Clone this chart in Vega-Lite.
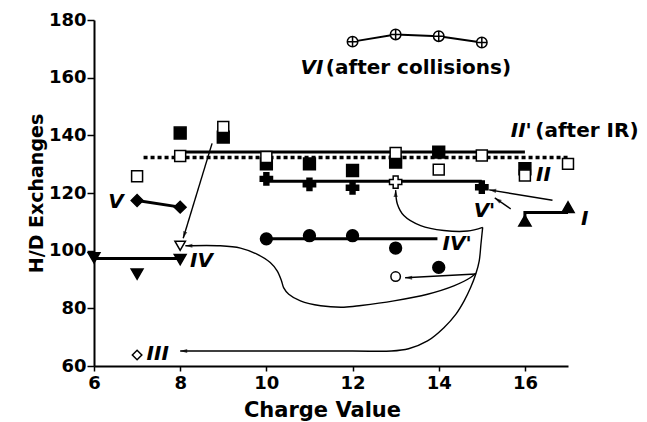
{
  "$schema": "https://vega.github.io/schema/vega-lite/v6.json",
  "width": 474,
  "height": 346,
  "autosize": {"type": "none"},
  "padding": {"left": 94, "top": 20, "right": 79, "bottom": 56},
  "background": "white",
  "config": {
    "view": {"stroke": null},
    "axis": {
      "grid": false,
      "domainColor": "black",
      "domainWidth": 2,
      "tickColor": "black",
      "tickWidth": 1.5,
      "labelFont": "DejaVu Sans",
      "labelFontWeight": "bold",
      "labelFontSize": 18,
      "labelColor": "black",
      "titleFont": "DejaVu Sans",
      "titleFontWeight": "bold",
      "titleFontSize": 19,
      "titleColor": "black"
    }
  },
  "datasets": {
    "points": [
      {"series": "II", "x": 8, "y": 140.8},
      {"series": "II", "x": 9, "y": 139.4},
      {"series": "II", "x": 10, "y": 130.1},
      {"series": "II", "x": 11, "y": 130.1},
      {"series": "II", "x": 12, "y": 127.8},
      {"series": "II", "x": 13, "y": 130.7},
      {"series": "II", "x": 14, "y": 134.2},
      {"series": "II", "x": 16, "y": 128.4},
      {"series": "II'", "x": 7, "y": 125.8},
      {"series": "II'", "x": 8, "y": 132.8},
      {"series": "II'", "x": 9, "y": 142.9},
      {"series": "II'", "x": 10, "y": 132.5},
      {"series": "II'", "x": 13, "y": 133.9},
      {"series": "II'", "x": 14, "y": 128.1},
      {"series": "II'", "x": 15, "y": 133.0},
      {"series": "II'", "x": 16, "y": 126.1},
      {"series": "II'", "x": 17, "y": 130.1},
      {"series": "I", "x": 16, "y": 110.4},
      {"series": "I", "x": 17, "y": 115.1},
      {"series": "III", "x": 7, "y": 63.8},
      {"series": "IV", "x": 6, "y": 97.5},
      {"series": "IV", "x": 7, "y": 91.9},
      {"series": "IV", "x": 8, "y": 96.9},
      {"series": "IV (open)", "x": 8, "y": 101.7},
      {"series": "IV'", "x": 10, "y": 104.1},
      {"series": "IV'", "x": 11, "y": 105.2},
      {"series": "IV'", "x": 12, "y": 105.2},
      {"series": "IV'", "x": 13, "y": 100.9},
      {"series": "IV'", "x": 14, "y": 94.2},
      {"series": "IV' (open)", "x": 13, "y": 91.0},
      {"series": "V", "x": 7, "y": 117.4},
      {"series": "V", "x": 8, "y": 115.1},
      {"series": "V'", "x": 10, "y": 124.9},
      {"series": "V'", "x": 11, "y": 123.0},
      {"series": "V'", "x": 12, "y": 121.8},
      {"series": "V'", "x": 15, "y": 122.0},
      {"series": "V' (open)", "x": 13, "y": 123.8},
      {"series": "VI", "x": 12, "y": 172.5},
      {"series": "VI", "x": 13, "y": 175.0},
      {"series": "VI", "x": 14, "y": 174.4},
      {"series": "VI", "x": 15, "y": 172.2}
    ],
    "seriesLines": [
      {"line": "VI", "i": 0, "x": 12, "y": 172.5},
      {"line": "VI", "i": 1, "x": 13, "y": 175.0},
      {"line": "VI", "i": 2, "x": 14, "y": 174.4},
      {"line": "VI", "i": 3, "x": 15, "y": 172.2},
      {"line": "II", "i": 0, "x": 8, "y": 134.2},
      {"line": "II", "i": 1, "x": 16, "y": 134.2},
      {"line": "II'", "i": 0, "x": 7.15, "y": 132.3},
      {"line": "II'", "i": 1, "x": 17, "y": 132.3},
      {"line": "V'", "i": 0, "x": 10, "y": 124.1},
      {"line": "V'", "i": 1, "x": 15, "y": 124.1},
      {"line": "IV'", "i": 0, "x": 10, "y": 104.1},
      {"line": "IV'", "i": 1, "x": 13.97, "y": 104.1},
      {"line": "IV", "i": 0, "x": 6, "y": 97.3},
      {"line": "IV", "i": 1, "x": 8, "y": 97.3},
      {"line": "V", "i": 0, "x": 7, "y": 117.4},
      {"line": "V", "i": 1, "x": 8, "y": 115.1},
      {"line": "I", "i": 0, "x": 16, "y": 110.5},
      {"line": "I", "i": 1, "x": 16, "y": 113.2},
      {"line": "I", "i": 2, "x": 17, "y": 113.2}
    ],
    "arrows": [
      {"arrow": "a1", "i": 0, "x": 8.74, "y": 137.2},
      {"arrow": "a1", "i": 1, "x": 8.07, "y": 104.3},
      {"arrow": "a2", "i": 0, "x": 14.86, "y": 92.2},
      {"arrow": "a2", "i": 1, "x": 14.74, "y": 90.7},
      {"arrow": "a2", "i": 2, "x": 14.35, "y": 87.8},
      {"arrow": "a2", "i": 3, "x": 13.74, "y": 84.9},
      {"arrow": "a2", "i": 4, "x": 12.96, "y": 82.6},
      {"arrow": "a2", "i": 5, "x": 12.2, "y": 81.0},
      {"arrow": "a2", "i": 6, "x": 11.8, "y": 80.4},
      {"arrow": "a2", "i": 7, "x": 11.26, "y": 80.9},
      {"arrow": "a2", "i": 8, "x": 10.79, "y": 82.6},
      {"arrow": "a2", "i": 9, "x": 10.52, "y": 84.9},
      {"arrow": "a2", "i": 10, "x": 10.4, "y": 87.2},
      {"arrow": "a2", "i": 11, "x": 10.35, "y": 89.6},
      {"arrow": "a2", "i": 12, "x": 10.25, "y": 93.0},
      {"arrow": "a2", "i": 13, "x": 10.09, "y": 95.9},
      {"arrow": "a2", "i": 14, "x": 9.78, "y": 98.8},
      {"arrow": "a2", "i": 15, "x": 9.4, "y": 100.9},
      {"arrow": "a2", "i": 16, "x": 8.93, "y": 101.7},
      {"arrow": "a2", "i": 17, "x": 8.12, "y": 101.7},
      {"arrow": "a3", "i": 0, "x": 15.02, "y": 108.1},
      {"arrow": "a3", "i": 1, "x": 14.98, "y": 102.3},
      {"arrow": "a3", "i": 2, "x": 14.94, "y": 96.5},
      {"arrow": "a3", "i": 3, "x": 14.86, "y": 91.9},
      {"arrow": "a3", "i": 4, "x": 14.74, "y": 87.2},
      {"arrow": "a3", "i": 5, "x": 14.59, "y": 82.6},
      {"arrow": "a3", "i": 6, "x": 14.4, "y": 78.0},
      {"arrow": "a3", "i": 7, "x": 14.12, "y": 73.3},
      {"arrow": "a3", "i": 8, "x": 13.74, "y": 68.7},
      {"arrow": "a3", "i": 9, "x": 13.3, "y": 66.0},
      {"arrow": "a3", "i": 10, "x": 12.9, "y": 65.2},
      {"arrow": "a3", "i": 11, "x": 12.0, "y": 65.2},
      {"arrow": "a3", "i": 12, "x": 8.0, "y": 65.2},
      {"arrow": "a4", "i": 0, "x": 15.02, "y": 108.1},
      {"arrow": "a4", "i": 1, "x": 14.67, "y": 106.8},
      {"arrow": "a4", "i": 2, "x": 14.12, "y": 107.0},
      {"arrow": "a4", "i": 3, "x": 13.58, "y": 108.7},
      {"arrow": "a4", "i": 4, "x": 13.19, "y": 112.2},
      {"arrow": "a4", "i": 5, "x": 13.04, "y": 116.2},
      {"arrow": "a4", "i": 6, "x": 13.0, "y": 121.0},
      {"arrow": "a5", "i": 0, "x": 14.86, "y": 91.9},
      {"arrow": "a5", "i": 1, "x": 13.22, "y": 90.6},
      {"arrow": "a6", "i": 0, "x": 16.64, "y": 117.5},
      {"arrow": "a6", "i": 1, "x": 15.17, "y": 121.1},
      {"arrow": "a7", "i": 0, "x": 15.67, "y": 114.5},
      {"arrow": "a7", "i": 1, "x": 15.3, "y": 118.3}
    ],
    "tips": [
      {"arrow": "a1", "x": 8.07, "y": 104.3},
      {"arrow": "a2", "x": 8.12, "y": 101.7},
      {"arrow": "a3", "x": 8.0, "y": 65.2},
      {"arrow": "a4", "x": 13.0, "y": 121.0},
      {"arrow": "a5", "x": 13.22, "y": 90.6},
      {"arrow": "a6", "x": 15.17, "y": 121.1},
      {"arrow": "a7", "x": 15.3, "y": 118.3}
    ],
    "labels": [
      {"text": "VI", "x": 10.79, "y": 163.5},
      {"text": "II'", "x": 15.67, "y": 141.4},
      {"text": "II", "x": 16.26, "y": 126.1},
      {"text": "V", "x": 6.33, "y": 116.8},
      {"text": "IV", "x": 8.23, "y": 96.5},
      {"text": "IV'", "x": 14.09, "y": 102.4},
      {"text": "V'", "x": 14.81, "y": 113.9},
      {"text": "I", "x": 17.3, "y": 111.1},
      {"text": "III", "x": 7.22, "y": 64.2}
    ],
    "notes": [
      {"text": "(after  collisions)", "x": 11.38, "y": 163.5},
      {"text": "(after  IR)", "x": 16.24, "y": 141.4}
    ]
  },
  "encoding": {
    "x": {
      "field": "x",
      "type": "quantitative",
      "scale": {"domain": [6, 17], "nice": false, "zero": false},
      "axis": {"values": [6, 8, 10, 12, 14, 16], "tickSize": 5, "labelPadding": 3, "title": "Charge  Value", "titleFontSize": 21, "titleX": 228, "titlePadding": 7, "labelFlush": false}
    },
    "y": {
      "field": "y",
      "type": "quantitative",
      "scale": {"domain": [60, 180], "nice": false, "zero": false},
      "axis": {"values": [60, 80, 100, 120, 140, 160, 180], "tickSize": 7, "labelPadding": 1, "title": "H/D Exchanges", "titlePadding": 2, "labelFlush": false}
    }
  },
  "layer": [
    {
      "data": {"name": "seriesLines"},
      "transform": [{"filter": "datum.line != 'VI' && datum.line != \"II'\""}],
      "mark": {"type": "line", "color": "black", "strokeWidth": 3, "interpolate": "linear"},
      "encoding": {"detail": {"field": "line"}, "order": {"field": "i"}}
    },
    {
      "data": {"name": "seriesLines"},
      "transform": [{"filter": "datum.line == \"II'\""}],
      "mark": {"type": "line", "color": "black", "strokeWidth": 3.5, "strokeDash": [4, 3], "strokeCap": "butt"},
      "encoding": {"detail": {"field": "line"}, "order": {"field": "i"}}
    },
    {
      "data": {"name": "seriesLines"},
      "transform": [{"filter": "datum.line == 'VI'"}],
      "mark": {"type": "line", "color": "black", "strokeWidth": 2},
      "encoding": {"detail": {"field": "line"}, "order": {"field": "i"}}
    },
    {
      "data": {"name": "arrows"},
      "transform": [{"filter": "datum.arrow != 'a1' && datum.arrow != 'a5' && datum.arrow != 'a6' && datum.arrow != 'a7'"}],
      "mark": {"type": "line", "color": "black", "strokeWidth": 1.4, "interpolate": "catmull-rom"},
      "encoding": {"detail": {"field": "arrow"}, "order": {"field": "i"}}
    },
    {
      "data": {"name": "arrows"},
      "transform": [{"filter": "datum.arrow == 'a1' || datum.arrow == 'a5' || datum.arrow == 'a6' || datum.arrow == 'a7'"}],
      "mark": {"type": "line", "color": "black", "strokeWidth": 1.4},
      "encoding": {"detail": {"field": "arrow"}, "order": {"field": "i"}}
    },
    {
      "data": {"name": "tips"},
      "transform": [{"filter": "datum.arrow == 'a2' || datum.arrow == 'a3' || datum.arrow == 'a5'"}],
      "mark": {"type": "point", "shape": "M0,0L0.6,2L-0.6,2Z", "size": 49, "filled": true, "color": "black", "angle": 270},
      "encoding": {}
    },
    {
      "data": {"name": "tips"},
      "transform": [{"filter": "datum.arrow == 'a4'"}],
      "mark": {"type": "point", "shape": "M0,0L0.6,2L-0.6,2Z", "size": 49, "filled": true, "color": "black", "angle": 0},
      "encoding": {}
    },
    {
      "data": {"name": "tips"},
      "transform": [{"filter": "datum.arrow == 'a1'"}],
      "mark": {"type": "point", "shape": "M0,0L0.6,2L-0.6,2Z", "size": 49, "filled": true, "color": "black", "angle": 197},
      "encoding": {}
    },
    {
      "data": {"name": "tips"},
      "transform": [{"filter": "datum.arrow == 'a6'"}],
      "mark": {"type": "point", "shape": "M0,0L0.6,2L-0.6,2Z", "size": 49, "filled": true, "color": "black", "angle": 279},
      "encoding": {}
    },
    {
      "data": {"name": "tips"},
      "transform": [{"filter": "datum.arrow == 'a7'"}],
      "mark": {"type": "point", "shape": "M0,0L0.6,2L-0.6,2Z", "size": 49, "filled": true, "color": "black", "angle": 304},
      "encoding": {}
    },
    {
      "data": {"name": "points"},
      "mark": {"type": "point", "stroke": "black", "strokeWidth": 1.5, "opacity": 1, "fillOpacity": 1},
      "encoding": {
        "shape": {
          "field": "series", "type": "nominal", "legend": null,
          "scale": {
            "domain": ["I", "II", "II'", "III", "IV", "IV (open)", "IV'", "IV' (open)", "V", "V'", "V' (open)", "VI"],
            "range": ["triangle-up", "square", "square", "diamond", "triangle-down", "triangle-down", "circle", "circle", "diamond", "cross", "cross", "M-1,0A1,1,0,1,0,1,0A1,1,0,1,0,-1,0ZM-1,0L1,0M0,-1L0,1"]
          }
        },
        "fill": {
          "field": "series", "type": "nominal", "legend": null,
          "scale": {
            "domain": ["I", "II", "II'", "III", "IV", "IV (open)", "IV'", "IV' (open)", "V", "V'", "V' (open)", "VI"],
            "range": ["black", "black", "white", "white", "black", "white", "black", "white", "black", "black", "white", "white"]
          }
        },
        "size": {
          "field": "series", "type": "ordinal", "legend": null,
          "scale": {
            "type": "ordinal",
            "domain": ["I", "II", "II'", "III", "IV", "IV (open)", "IV'", "IV' (open)", "V", "V'", "V' (open)", "VI"],
            "range": [150, 140, 120, 90, 140, 110, 140, 90, 140, 150, 150, 110]
          }
        }
      }
    },
    {
      "data": {"name": "labels"},
      "mark": {"type": "text", "font": "DejaVu Sans", "fontWeight": "bold", "fontStyle": "italic", "fontSize": 20, "align": "left", "baseline": "middle", "color": "black"},
      "encoding": {"text": {"field": "text"}}
    },
    {
      "data": {"name": "notes"},
      "mark": {"type": "text", "font": "DejaVu Sans", "fontWeight": "bold", "fontSize": 20, "align": "left", "baseline": "middle", "color": "black"},
      "encoding": {"text": {"field": "text"}}
    }
  ]
}
